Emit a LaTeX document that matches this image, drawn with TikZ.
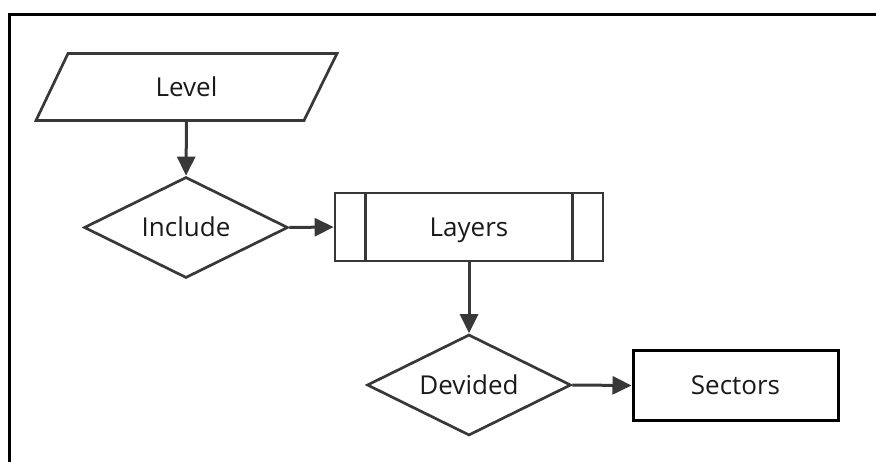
\documentclass[tikz,border=0pt]{standalone}
\usepackage{fontspec}
\setmainfont{Open Sans}
\usetikzlibrary{shapes.geometric,arrows.meta}
\definecolor{strk}{HTML}{383838}
\definecolor{txt}{HTML}{1A1A1A}
\tikzset{
  lbl/.style={font=\fontsize{26}{30}\selectfont, text=txt, text height=19pt, text depth=0pt},
  shapeline/.style={draw=strk, line width=2.7pt},
  decision/.style={shapeline, diamond, aspect=2, inner sep=0pt, minimum width=204pt, minimum height=101pt, lbl},
  procbox/.style={shapeline, rectangle, inner sep=0pt, minimum width=268pt, minimum height=68pt, lbl},
  endbox/.style={draw=black, line width=3pt, rectangle, inner sep=0pt, minimum width=205pt, minimum height=69pt, lbl},
  conn/.style={draw=strk, line width=3pt, -{Triangle[length=19pt,width=18pt]}},
}
\begin{document}
\begin{tikzpicture}[x=1pt,y=-1pt]
\useasboundingbox (0,0) rectangle (876,462);
% frame
\draw[black, line width=3pt] (9.5,462) -- (9.5,15) -- (876,15);
% Level (parallelogram)
\node[lbl, minimum width=268pt, minimum height=67pt, inner sep=0pt] (lvl) at (186.5,87) {Level};
\draw[shapeline, line join=miter] (68,53.5) -- (337,53.5) -- (304,120.5) -- (36,120.5) -- cycle;
% Include
\node[decision] (inc) at (186,227.5) {Include};
% Layers
\node[procbox] (lay) at (469,227) {Layers};
\draw[shapeline] ([xshift=32pt]lay.north west) -- ([xshift=32pt]lay.south west);
\draw[shapeline] ([xshift=-32pt]lay.north east) -- ([xshift=-32pt]lay.south east);
% Devided
\node[decision] (dev) at (469,385) {Devided};
% Sectors
\node[endbox] (sec) at (735.5,385.5) {Sectors};
% connectors
\draw[conn] (lvl.south) -- (inc.north);
\draw[conn] (inc.east) -- (lay.west);
\draw[conn] (lay.south) -- (dev.north);
\draw[conn] (dev.east) -- (sec.west);
\end{tikzpicture}
\end{document}
